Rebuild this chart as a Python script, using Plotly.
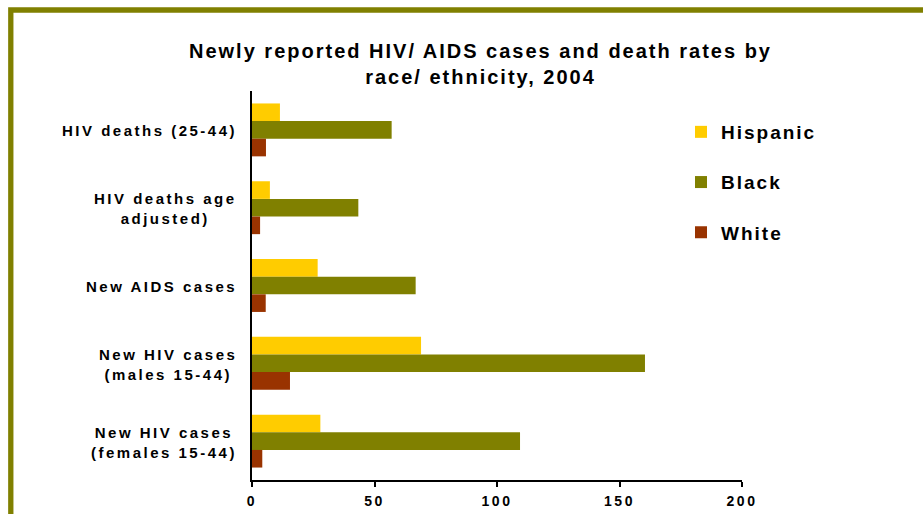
import plotly.graph_objects as go

categories = [
    "HIV deaths (25-44)",
    "HIV deaths age<br>adjusted)",
    "New AIDS cases",
    "New HIV cases<br>(males 15-44)",
    "New HIV cases<br>(females 15-44)",
]
hispanic = [11.4, 7.3, 26.8, 69.0, 27.9]
black = [57.0, 43.4, 66.8, 160.4, 109.4]
white = [5.7, 3.3, 5.6, 15.5, 4.2]
x_ticks = [0, 50, 100, 150, 200]

series = [("Hispanic", hispanic, "#FFCC00"), ("Black", black, "#808000"), ("White", white, "#993300")]

W, H = 923, 514
L, R, T, B = 252, 181, 91, 34
pw, ph = W - L - R, H - T - B


def px_x(p):
    return (p - L) / pw


def px_y(p):
    return (H - B - p) / ph


def spaced(text, sp):
    return "<br>".join(
        f'<span style="letter-spacing:{sp}px">{line}</span>' for line in text.split("<br>")
    )


FONT = "Liberation Sans, Arial, sans-serif"

fig = go.Figure()
for name, vals, col in series:
    fig.add_trace(go.Bar(
        y=categories, x=vals, name=spaced(name, 2), orientation="h",
        marker=dict(color=col, line=dict(width=0)),
        legendgroup=name,
    ))

for c in categories:
    fig.add_annotation(
        x=0, xref="paper", y=c, yref="y", text=spaced(c, 2.5), showarrow=False,
        xanchor="right", yanchor="middle", align="center", xshift=-13, yshift=-1,
        font=dict(family=FONT, size=15, color="black", weight="bold"),
    )

fig.add_shape(
    type="rect", xref="paper", yref="paper",
    x0=px_x(10.8), y0=px_y(540), x1=px_x(950), y1=px_y(10),
    line=dict(color="#808000", width=5.3), fillcolor="rgba(0,0,0,0)",
)

fig.update_layout(
    width=W, height=H,
    margin=dict(l=L, r=R, t=T, b=B, autoexpand=False),
    paper_bgcolor="white", plot_bgcolor="white",
    barmode="group", bargap=0.32, bargroupgap=0,
    title=dict(
        text=spaced("Newly reported HIV/ AIDS cases and death rates by<br>race/ ethnicity, 2004", 2),
        x=480.5 / W, xref="container", xanchor="center",
        y=1 - 57.5 / H, yref="container", yanchor="middle",
        font=dict(family=FONT, size=20, color="black", weight="bold"),
    ),
    xaxis=dict(
        range=[0, 200], tickvals=x_ticks, ticktext=[spaced(str(v), 2.5) for v in x_ticks],
        ticks="outside", ticklen=5, tickwidth=2, ticklabelstandoff=2, automargin=False,
        tickcolor="black", showline=True, linecolor="black", linewidth=2,
        showgrid=False, zeroline=False,
        tickfont=dict(family=FONT, size=14, color="black", weight="bold"),
    ),
    yaxis=dict(
        type="category", autorange="reversed", showticklabels=False, automargin=False,
        showline=True, linecolor="black", linewidth=2, ticks="",
        showgrid=False, zeroline=False,
    ),
    legend=dict(
        x=px_x(681), y=px_y(113), xanchor="left", yanchor="top",
        font=dict(family=FONT, size=19, color="black", weight="bold"),
        tracegroupgap=22.5, bgcolor="rgba(0,0,0,0)",
    ),
    showlegend=True,
)

fig.write_html("out.html")
